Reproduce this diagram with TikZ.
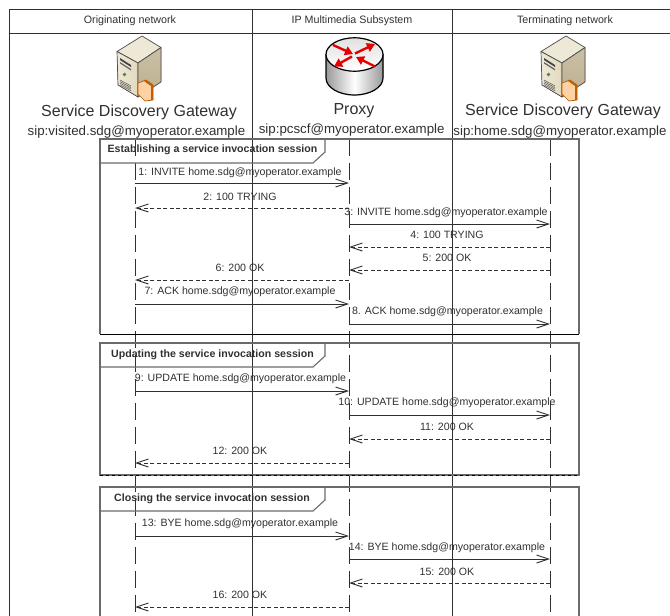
\documentclass[tikz,border=0pt]{standalone}
\usepackage{fontspec}
\setmainfont{Liberation Sans}
\usetikzlibrary{arrows.meta}
\definecolor{inkgrey}{HTML}{303030}
\definecolor{linegrey}{HTML}{6A6A6A}
\definecolor{servertop}{HTML}{EEE8D6}
\definecolor{serverfront}{HTML}{E2D9BE}
\definecolor{serverside}{HTML}{BDB08F}
\tikzstyle{column} = [rectangle, font=\fontsize{10.7}{12}\selectfont, text=inkgrey, inner sep=0pt]
\tikzstyle{entity} = [rectangle, font=\fontsize{16}{18}\selectfont, text=inkgrey, inner sep=0pt]
\tikzstyle{address} = [rectangle, font=\fontsize{13.3}{15}\selectfont, text=inkgrey, inner sep=0pt]
\tikzstyle{message} = [rectangle, font=\fontsize{10.6}{12}\selectfont, text=inkgrey, inner sep=0pt]
\tikzstyle{frametitle} = [rectangle, font=\fontsize{10.6}{12}\selectfont\bfseries, text=inkgrey, inner sep=0pt]
\tikzstyle{grid} = [line width=0.9pt, draw=inkgrey]
\tikzstyle{frameline} = [line width=1.1pt, draw=linegrey]
\tikzstyle{lifeline} = [line width=0.9pt, draw=inkgrey, dash pattern=on 17pt off 7pt]
\tikzstyle{arrow} = [line width=0.9pt, draw=inkgrey, ->, >={Straight Barb[length=12pt,width=8pt]}]
\tikzstyle{reply} = [arrow, dash pattern=on 4pt off 2.5pt]
\tikzstyle{redarrow} = [line width=2.4pt, draw=red!90!black, -{Triangle[length=8pt,width=9pt]}]

% server drawn from its own top left corner
\newcommand{\servericon}[1]{
    \begin{scope}[shift={#1}, line join=round, draw=black!70, line width=0.7pt]
        \filldraw [fill=servertop] (17,21.5) -- (42,6) -- (61,17.5) -- (38,33) -- cycle;
        \filldraw [left color=servertop, right color=serverfront] (17,21.5) -- (38,33) -- (38,67) -- (18,55) -- cycle;
        \filldraw [top color=serverside!80!white, bottom color=serverside] (38,33) -- (61,17.5) -- (61,52) -- (38,67) -- cycle;
        % slots
        \fill [black!75] (20,28) -- (31,35) -- (31,37) -- (20,30) -- cycle;
        \fill [black!60] (20,32) -- (31,39) -- (31,40.5) -- (20,33.5) -- cycle;
        \fill [green!30!black!70] (24.5,44.5) circle (1.8);
        \foreach \s in {0,1.6,3.2,4.8} {
            \draw [black!60, line width=0.6pt] (20,50+\s) -- (31,56+\s);
        }
        % card
        \filldraw [draw=orange!70!black, fill=orange!35!white] (38,53) -- (46,50) -- (53,55) -- (53,70) -- (45,71) -- (38,64) -- cycle;
        \fill [orange!75!black] (46,50) -- (53,55) -- (53,70) -- (51,70) -- (51,56) -- (44,51) -- cycle;
    \end{scope}
}

\begin{document}
\begin{tikzpicture}[x=1pt, y=-1pt]
    \useasboundingbox (0,0) rectangle (670,616);

    %columns
    \node (origcol) [column] at (130,20.5) {Originating network};
    \node (imscol) [column] at (352,20.5) {IP Multimedia Subsystem};
    \node (termcol) [column] at (565,20.5) {Terminating network};
    \draw [grid] (670,9.5) -- (9.5,9.5) -- (9.5,616);
    \draw [grid] (9.5,33) -- (670,33);
    \draw [grid] (252.5,9.5) -- (252.5,616);
    \draw [grid] (452.5,9.5) -- (452.5,616);

    %icons
    \servericon{(100,30)}
    \servericon{(524,30)}
    \begin{scope}[line width=1.2pt, draw=black]
        \filldraw [left color=black!40, right color=black!40, middle color=white] (326,54.5) -- (326,78) arc [start angle=180, end angle=0, x radius=28.5, y radius=17] -- (383,54.5) -- cycle;
        \filldraw [top color=black!12, bottom color=white] (354.5,54.5) ellipse [x radius=28.5, y radius=16.7];
    \end{scope}
    \draw [redarrow] (333,45) -- (353,54);
    \draw [redarrow] (375,66.5) -- (356,57);
    \draw [redarrow] (355,53.5) -- (375,44);
    \draw [redarrow] (352,56.5) -- (334,66.5);

    %entities
    \node (origname) [entity] at (139,112) {Service Discovery Gateway};
    \node (proxyname) [entity] at (354,111) {Proxy};
    \node (termname) [entity] at (563,111.5) {Service Discovery Gateway};
    \node (origsip) [address] at (136.5,132) {sip:visited.sdg@myoperator.example};
    \node (proxysip) [address] at (351.7,130.5) {sip:pcscf@myoperator.example};
    \node (termsip) [address] at (560,132) {sip:home.sdg@myoperator.example};

    %lifelines
    \coordinate (orig) at (135,139);
    \coordinate (proxy) at (349,139);
    \coordinate (term) at (550,139);
    \coordinate (origend) at (135,616);
    \coordinate (proxyend) at (349,616);
    \coordinate (termend) at (550,616);
    \draw [lifeline] (orig) -- (origend);
    \draw [lifeline] (proxy) -- (proxyend);
    \draw [lifeline] (term) -- (termend);

    %frames
    \draw [frameline] (100,334) -- (100,139) -- (579,139) -- (579,334);
    \draw [grid, draw=black] (100,334) -- (579,334);
    \draw [frameline] (100,163) -- (313,163) -- (325,152) -- (325,139);
    \node (establish) [frametitle] at (212.5,150) {Establishing a service invocation session};
    \draw [frameline] (100,475) -- (100,343) -- (579,343) -- (579,475) -- cycle;
    \draw [grid, draw=black, dashed] (100,475) -- (579,475);
    \draw [frameline] (100,367) -- (313,367) -- (325,356) -- (325,343);
    \node (update) [frametitle] at (212.5,354.5) {Updating the service invocation session};
    \draw [frameline] (100,616) -- (100,487) -- (579,487) -- (579,616);
    \draw [frameline] (100,511) -- (313,511) -- (325,500) -- (325,487);
    \node (close) [frametitle] at (212,498.5) {Closing the service invocation session};

    %message heights
    \coordinate (y1) at (0,183);
    \coordinate (y2) at (0,208);
    \coordinate (y3) at (0,224);
    \coordinate (y4) at (0,247);
    \coordinate (y5) at (0,270);
    \coordinate (y6) at (0,280);
    \coordinate (y7) at (0,304);
    \coordinate (y8) at (0,324);
    \coordinate (y9) at (0,391);
    \coordinate (y10) at (0,415);
    \coordinate (y11) at (0,439);
    \coordinate (y12) at (0,463);
    \coordinate (y13) at (0,536);
    \coordinate (y14) at (0,559);
    \coordinate (y15) at (0,583);
    \coordinate (y16) at (0,607);

    %arrows
    \draw [arrow] (orig |- y1) -- (proxy |- y1);
    \draw [reply] (proxy |- y2) -- (orig |- y2);
    \draw [arrow] (proxy |- y3) -- (term |- y3);
    \draw [reply] (term |- y4) -- (proxy |- y4);
    \draw [reply] (term |- y5) -- (proxy |- y5);
    \draw [reply] (proxy |- y6) -- (orig |- y6);
    \draw [arrow] (orig |- y7) -- (proxy |- y7);
    \draw [arrow] (proxy |- y8) -- (term |- y8);

    \draw [arrow] (orig |- y9) -- (proxy |- y9);
    \draw [arrow] (proxy |- y10) -- (term |- y10);
    \draw [reply] (term |- y11) -- (proxy |- y11);
    \draw [reply] (proxy |- y12) -- (orig |- y12);

    \draw [arrow] (orig |- y13) -- (proxy |- y13);
    \draw [arrow] (proxy |- y14) -- (term |- y14);
    \draw [reply] (term |- y15) -- (proxy |- y15);
    \draw [reply] (proxy |- y16) -- (orig |- y16);

    %message labels
    \node (m1) [message] at (240,173) {1: INVITE home.sdg@myoperator.example};
    \node (m2) [message] at (240,197) {2: 100 TRYING};
    \node (m3) [message] at (446,213) {3: INVITE home.sdg@myoperator.example};
    \node (m4) [message] at (447,235) {4: 100 TRYING};
    \node (m5) [message] at (447,258) {5: 200 OK};
    \node (m6) [message] at (240,268) {6: 200 OK};
    \node (m7) [message] at (240,292) {7: ACK home.sdg@myoperator.example};
    \node (m8) [message] at (447.5,312) {8. ACK home.sdg@myoperator.example};
    \node (m9) [message] at (240.5,379) {9: UPDATE home.sdg@myoperator.example};
    \node (m10) [message] at (447,403) {10: UPDATE home.sdg@myoperator.example};
    \node (m11) [message] at (447,427) {11: 200 OK};
    \node (m12) [message] at (240,451) {12: 200 OK};
    \node (m13) [message] at (240,524) {13: BYE home.sdg@myoperator.example};
    \node (m14) [message] at (447,548) {14: BYE home.sdg@myoperator.example};
    \node (m15) [message] at (447,572) {15: 200 OK};
    \node (m16) [message] at (240,595) {16: 200 OK};

\end{tikzpicture}
\end{document}
